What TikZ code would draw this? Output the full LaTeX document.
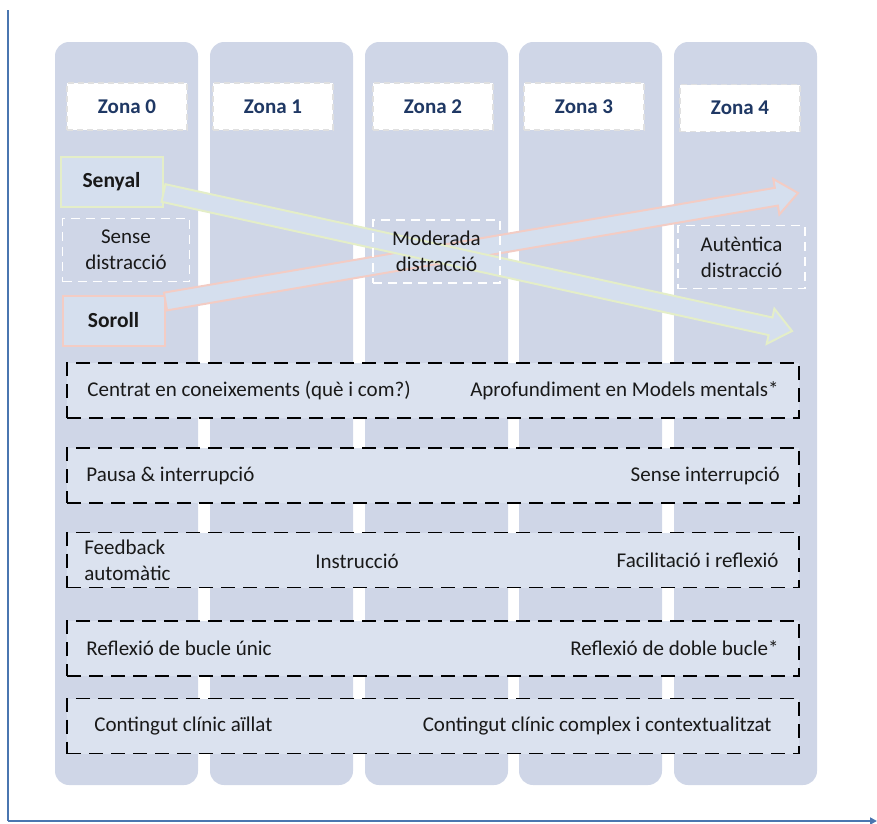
\documentclass[tikz,border=0pt]{standalone}
\usepackage{fontspec}
\setmainfont{Carlito}
\usetikzlibrary{calc,arrows.meta}

\definecolor{colfill}{RGB}{207,214,231}
\definecolor{rowfill}{RGB}{219,226,239}
\definecolor{arrowfill}{RGB}{213,223,238}
\definecolor{zonablue}{RGB}{31,56,100}
\definecolor{axisblue}{RGB}{74,118,176}
\definecolor{sigline}{RGB}{228,238,200}
\definecolor{noiseline}{RGB}{243,204,196}
\definecolor{txt}{RGB}{25,25,25}

% wide outlined arrow from #2 to the tip #3, outline colour #1
\newcommand\fatarrow[3]{%
  \coordinate (hb) at ($(#3)!22pt!(#2)$);
  \draw[#1, line width=2pt, fill=arrowfill, line join=miter]
    ($(#2)!9pt!90:(#3)$) -- ($(hb)!9pt!90:(#3)$) -- ($(hb)!18pt!90:(#3)$) -- (#3)
    -- ($(hb)!18pt!-90:(#3)$) -- ($(hb)!9pt!-90:(#3)$) -- ($(#2)!9pt!-90:(#3)$) -- cycle;}

\begin{document}
\begin{tikzpicture}[x=1pt,y=-1pt,
  every node/.style={font=\fontsize{21}{26}\selectfont, text=txt, inner sep=0pt},
  colband/.style={fill=colfill, rounded corners=14pt, draw=none},
  zonahead/.style={fill=white, draw=black!12, line width=1.2pt, dash pattern=on 6pt off 4pt,
    minimum width=120pt, minimum height=47pt, text=zonablue, font=\fontsize{21}{26}\selectfont\bfseries},
  whitebox/.style={draw=white, line width=1.8pt, dash pattern=on 9pt off 6pt,
    minimum width=127pt, minimum height=63pt, align=center},
  sigbox/.style={fill=arrowfill, line width=2pt, minimum width=102pt, minimum height=50pt,
    font=\fontsize{21.5}{26}\selectfont\bfseries},
  rowbox/.style={fill=rowfill, draw=black, line width=1.6pt, dash pattern=on 14pt off 8pt,
    minimum width=732pt, minimum height=55pt},
  axisline/.style={draw=axisblue, line width=2pt}
]
\useasboundingbox (0,0) rectangle (877,823);

% axes
\coordinate (ytop) at (8,10);
\coordinate (orig) at (8,821);
\coordinate (xend) at (877,821);
\draw[axisline] (ytop) -- (orig);
\draw[axisline, -{Triangle[length=7pt,width=7pt]}] (orig) -- (xend);

% zone columns
\foreach \x in {55,210,365,519,674}
  \fill[colband] (\x,42) rectangle ++(143,743);

% zone headers
\node[zonahead] (z0) at (127,106.5) {Zona 0};
\node[zonahead] (z1) at (273,106.5) {Zona 1};
\node[zonahead] (z2) at (433,106.5) {Zona 2};
\node[zonahead] (z3) at (584,106.5) {Zona 3};
\node[zonahead] (z4) at (740,108) {Zona 4};

% signal and noise
\node[sigbox, draw=sigline] (senyal) at (111.5,182) {Senyal};
\node[sigbox, draw=noiseline] (soroll) at (113.5,320.5) {Soroll};

\coordinate (sigtip) at (792,331);
\coordinate (noisetip) at (798,193);
\fatarrow{noiseline}{$(soroll.east)+(0,-19)$}{noisetip}
\fatarrow{sigline}{$(senyal.east)+(0,11)$}{sigtip}

% distraction levels
\node[whitebox] (d0) at (126,250) {Sense\\distracció};
\node[whitebox] (d2) at (436.5,251.5) {Moderada\\distracció};
\node[whitebox] (d4) at (741.5,257) {Autèntica\\distracció};

% continua
\node[rowbox] (r1) at (433,390.5) {};
\node[rowbox] (r2) at (433,475.5) {};
\node[rowbox] (r3) at (433,560) {};
\node[rowbox] (r4) at (433,648.5) {};
\node[rowbox] (r5) at (433,726) {};

\node[anchor=west] (r1a) at ([xshift=21pt]r1.west) {Centrat en coneixements (què i com?)};
\node[anchor=east] (r1b) at ([xshift=-21pt]r1.east) {Aprofundiment en Models mentals*};
\node[anchor=west] (r2a) at ([xshift=20pt]r2.west) {Pausa \& interrupció};
\node[anchor=east] (r2b) at ([xshift=-20pt]r2.east) {Sense interrupció};
\node[anchor=west, align=left] (r3a) at ([xshift=18pt]r3.west) {Feedback\\automàtic};
\node (r3b) at (357,561) {Instrucció};
\node[anchor=east] (r3c) at ([xshift=-21pt]r3.east) {Facilitació i reflexió};
\node[anchor=west] (r4a) at ([xshift=20pt]r4.west) {Reflexió de bucle únic};
\node[anchor=east] (r4b) at ([xshift=-21pt]r4.east) {Reflexió de doble bucle*};
\node[anchor=west] (r5a) at ([xshift=28pt]r5.west) {Contingut clínic aïllat};
\node[anchor=east] (r5b) at ([xshift=-28pt]r5.east) {Contingut clínic complex i contextualitzat};
\end{tikzpicture}
\end{document}
